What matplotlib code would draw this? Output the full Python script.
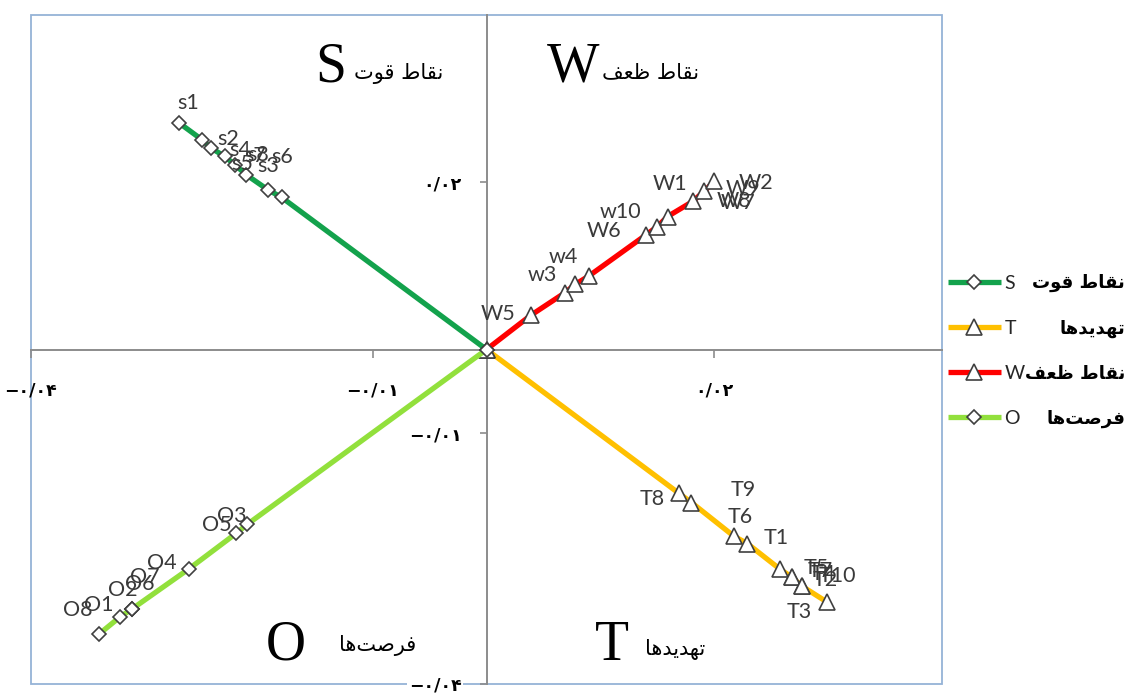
import matplotlib
matplotlib.use("Agg")
import matplotlib.pyplot as plt
from matplotlib.patches import Rectangle

# ---- Persian texts (Arabic presentation forms, visual order) ----
S_NAME = "\uFE95\uFEEE\uFED7 \uFEC1\uFE8E\uFED8\uFEE7"   # نقاط قوت
W_NAME = "\uFED2\uFECC\uFEC7 \uFEC1\uFE8E\uFED8\uFEE7"   # نقاط ضعف
T_NAME = "\uFE8E\uFEEB\uFEAA\uFEF3\uFEAA\uFEEC\uFE97"    # تهدیدها
O_NAME = "\uFE8E\uFEEB\uFE96\uFEBB\uFEAE\uFED3"          # فرصت‌ها

# ---- data (origin first, then outward) ----
s_labels = ["", "s7", "s6", "s3", "s8", "s5", "s4", "s2", "s1"]
s_x = [0, -0.0180, -0.0192, -0.0211, -0.0221, -0.0230, -0.0242, -0.0250, -0.0270]
s_y = [0, 0.0182, 0.0191, 0.0209, 0.0221, 0.0231, 0.0241, 0.0251, 0.0271]

w_labels = ["", "W5", "w3", "w4", "W7", "W6", "w10", "W8", "W1", "W9", "W2"]
w_x = [0, 0.0039, 0.0069, 0.0078, 0.0090, 0.0140, 0.0150, 0.0159, 0.0181, 0.0191, 0.0200]
w_y = [0, 0.0041, 0.0068, 0.0078, 0.0088, 0.0137, 0.0147, 0.0159, 0.0177, 0.0189, 0.0201]

t_labels = ["", "T8", "T9", "T6", "T1", "T5", "T7", "T4", "T2", "T3", "T10"]
t_x = [0, 0.0169, 0.0180, 0.0217, 0.0229, 0.0258, 0.0268, 0.0268, 0.0277, 0.0277, 0.0299]
t_y = [0, -0.0172, -0.0183, -0.0223, -0.0232, -0.0263, -0.0272, -0.0272, -0.0283, -0.0283, -0.0302]

o_labels = ["", "O3", "O5", "O4", "O7", "O6", "O2", "O1", "O8"]
o_x = [0, -0.0210, -0.0220, -0.0261, -0.0311, -0.0311, -0.0311, -0.0322, -0.0340]
o_y = [0, -0.0209, -0.0220, -0.0262, -0.0310, -0.0310, -0.0310, -0.0320, -0.0340]

tick_vals = [-0.04, -0.01, 0.02]
tick_text = ["\u2212\u06F0/\u06F0\u06F4", "\u2212\u06F0/\u06F0\u06F1", "\u06F0/\u06F0\u06F2"]

# ---- label offsets (pixels) ----
s_off = [None, (-26, 41), (14, 33), (22, 9), (23, 10), (18, -8), (29, -2), (26, 1), (9, 20)]
w_off = [None, (-33, 1), (-23, 18), (-12, 27), (149, 73), (-42, 4), (-37, 15), (66, 16), (-23, 17), (39, 2), (42, -2)]
t_off = [None, (-27, -6), (52, 13), (7, 19), (29, 6), (36, 1), (29, 6), (32, 3), (23, 6), (-3, -26), (10, 26)]
o_off = [None, (-16, 8), (-19, 8), (-27, 6), (12, 32), (7, 25), (-10, 19), (-21, 12), (-22, 24)]

W, H = 1130, 698
fig = plt.figure(figsize=(W / 100, H / 100), dpi=100)
ax = fig.add_axes([31 / W, 1 - 684 / H, (942 - 31) / W, (684 - 15) / H])
ax.set_xlim(-0.04, 0.04)
ax.set_ylim(-0.04, 0.04)

edge = "#404040"
series = [
    ("S", s_x, s_y, s_labels, s_off, "#13A24C", "D", 7.2),
    ("T", t_x, t_y, t_labels, t_off, "#FFC000", "^", 11),
    ("W", w_x, w_y, w_labels, w_off, "#FF0000", "^", 11),
    ("O", o_x, o_y, o_labels, o_off, "#92E03C", "D", 7.2),
]
handles = []
for name, xs, ys, labs, offs, col, mk, ms in series:
    ln, = ax.plot(xs, ys, color=col, lw=3.8, marker=mk, ms=ms,
                  mfc="white", mec=edge, mew=1.2, zorder=3, label=name,
                  solid_capstyle="butt")
    handles.append(ln)
    for x, y, lab, off in zip(xs, ys, labs, offs):
        if lab:
            ax.annotate(lab, (x, y), xytext=off, textcoords="offset pixels",
                        ha="center", va="center", fontsize=15.5,
                        family="Lato", color="#3A3A3A", zorder=5)

# central axes
for sp in ["top", "right"]:
    ax.spines[sp].set_visible(False)
ax.spines["left"].set_position(("data", 0))
ax.spines["bottom"].set_position(("data", 0))
for sp in ["left", "bottom"]:
    ax.spines[sp].set_color("#8C8C8C")
    ax.spines[sp].set_linewidth(1.4)
    ax.spines[sp].set_zorder(2)
ax.set_xticks(tick_vals)
ax.set_yticks(tick_vals)
ax.set_xticklabels(tick_text)
ax.set_yticklabels(tick_text)
ax.tick_params(axis="x", direction="out", length=6, width=1.2, color="#8C8C8C", pad=17)
ax.tick_params(axis="y", direction="out", length=5, width=1.2, color="#8C8C8C", pad=13)
for lbl in ax.get_xticklabels() + ax.get_yticklabels():
    lbl.set_fontsize(12.5)
    lbl.set_fontweight("bold")
    lbl.set_family("DejaVu Sans")
    lbl.set_color("black")
ax.get_yticklabels()[0].set_bbox(dict(facecolor="white", edgecolor="none", pad=1))

# outer frame
ax.add_patch(Rectangle((0, 0), 1, 1, transform=ax.transAxes, fill=False,
                       edgecolor="#95B3D7", lw=1.3, clip_on=False, zorder=1))

# quadrant titles
def px(x, y):
    return x / W, 1 - y / H

serif = "Liberation Serif"
for letter, lx, ly, pname, pxx, pyy in [
    ("S", 331, 68, S_NAME, 399, 74),
    ("W", 573, 68, W_NAME, 651, 72),
    ("O", 286, 645, O_NAME, 378, 645),
    ("T", 612, 646, T_NAME, 675, 650),
]:
    fig.text(*px(lx, ly), letter, family=serif, fontsize=40, ha="center", va="center")
    fig.text(*px(pxx, pyy), pname, family="DejaVu Sans", fontsize=15, ha="center", va="center")

# legend
leg = fig.legend(handles=handles, labels=["S", "T", "W", "O"], loc="center left",
                 bbox_to_anchor=(948 / W, 1 - 351 / H), bbox_transform=fig.transFigure,
                 frameon=False, borderpad=0, borderaxespad=0, handlelength=2.7,
                 handletextpad=0.2, labelspacing=1.45, numpoints=1,
                 prop={"family": "Lato", "size": 14})
for t in leg.get_texts():
    t.set_color("#262626")

fig.canvas.draw()
inv = fig.transFigure.inverted()
for t, nm in zip(leg.get_texts(), [S_NAME, T_NAME, W_NAME, O_NAME]):
    bb = t.get_window_extent()
    yc = inv.transform((0, (bb.y0 + bb.y1) / 2))[1]
    fig.text(1125 / W, yc, nm, family="DejaVu Sans", fontsize=13, fontweight="bold",
             ha="right", va="center")

fig.savefig("out.png", dpi=100)
